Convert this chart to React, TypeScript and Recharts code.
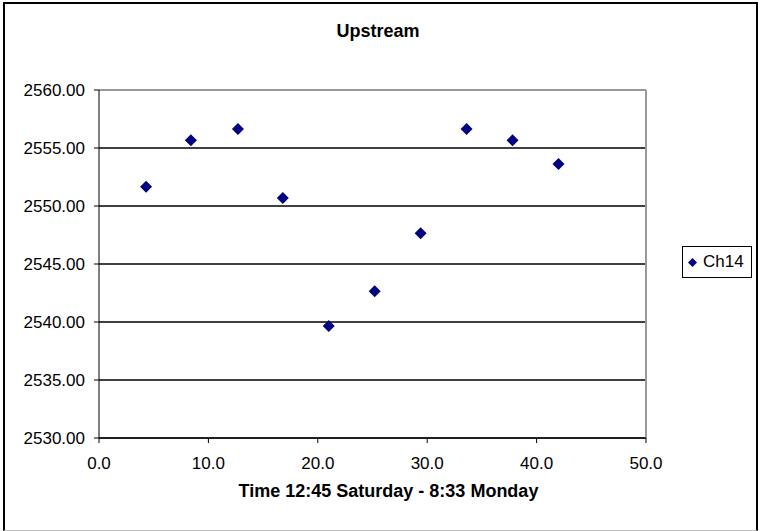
import {
  ScatterChart,
  Scatter,
  XAxis,
  YAxis,
  CartesianGrid,
  Legend,
  ReferenceLine,
} from "recharts";

const timeValues = [4.3, 8.4, 12.7, 16.8, 21.0, 25.2, 29.4, 33.6, 37.8, 42.0];
const ch14Values = [
  2551.66, 2555.66, 2556.64, 2550.69, 2539.66, 2542.65, 2547.65, 2556.64,
  2555.66, 2553.62,
];
const xTicks = [0, 10, 20, 30, 40, 50];
const yTicks = [2530, 2535, 2540, 2545, 2550, 2555, 2560];

const data = timeValues.map((t, i) => ({ t, v: ch14Values[i] }));

const FONT = "'Liberation Sans', Arial, sans-serif";
const NAVY = "#000080";

function Diamond(props: any) {
  const { cx, cy } = props;
  if (cx == null || cy == null) return null;
  const r = 6;
  return (
    <polygon
      points={`${cx},${cy - r} ${cx + r},${cy} ${cx},${cy + r} ${cx - r},${cy}`}
      fill={NAVY}
    />
  );
}

function LegendBox() {
  return (
    <div
      style={{
        width: 70,
        height: 32,
        boxSizing: "border-box",
        border: "1px solid #000",
        background: "#fff",
        display: "flex",
        alignItems: "center",
        paddingLeft: 5,
        fontFamily: FONT,
        fontSize: 17,
        color: "#000",
      }}
    >
      <svg width={9} height={9}>
        <polygon points="4.5,0 9,4.5 4.5,9 0,4.5" fill={NAVY} />
      </svg>
      <span style={{ marginLeft: 6 }}>Ch14</span>
    </div>
  );
}

export default function App() {
  return (
    <div
      style={{
        position: "absolute",
        left: 0,
        top: 0,
        width: 768,
        height: 531,
        background: "#fff",
      }}
    >
      {/* outer frame */}
      <div
        style={{
          position: "absolute",
          left: 3,
          top: 2,
          width: 755,
          height: 529,
          boxSizing: "border-box",
          borderTop: "2px solid #000",
          borderLeft: "2px solid #000",
          borderRight: "2px solid #000",
          borderBottom: "1px solid #c0c0c0",
        }}
      />
      <div
        style={{
          position: "absolute",
          left: 0,
          top: 21.5,
          width: 756,
          textAlign: "center",
          fontFamily: FONT,
          fontWeight: "bold",
          fontSize: 18,
          lineHeight: "18px",
        }}
      >
        Upstream
      </div>
      <ScatterChart
        width={768}
        height={531}
        // legend width (70) is added on the right by recharts
        margin={{ top: 90, right: 52, bottom: 0, left: 0 }}
        style={{ position: "absolute", left: 0, top: 0 }}
      >
        <CartesianGrid vertical={false} stroke="#000" strokeWidth={1.5} />
        <XAxis
          type="number"
          dataKey="t"
          domain={[0, 50]}
          ticks={xTicks}
          tickFormatter={(v: number) => v.toFixed(1)}
          height={93}
          tickSize={5}
          tickMargin={14}
          stroke="#000"
          tick={{ fill: "#000", fontSize: 17, fontFamily: FONT }}
          label={{
            value: "Time 12:45 Saturday - 8:33 Monday",
            position: "insideBottom",
            offset: 34,
            dx: 16,
            fill: "#000",
            fontSize: 18,
            fontWeight: "bold",
            fontFamily: FONT,
          }}
        />
        <YAxis
          type="number"
          dataKey="v"
          domain={[2530, 2560]}
          ticks={yTicks}
          tickFormatter={(v: number) => v.toFixed(2)}
          width={99}
          tickSize={5}
          tickMargin={9}
          stroke="#000"
          tick={{ fill: "#000", fontSize: 17, fontFamily: FONT }}
        />
        <ReferenceLine y={2560} stroke="#999" strokeWidth={2} />
        <ReferenceLine x={50} stroke="#999" strokeWidth={2} />
        <Legend
          layout="horizontal"
          align="right"
          verticalAlign="middle"
          content={() => <LegendBox />}
          wrapperStyle={{ left: 682, top: 246, width: 70 }}
        />
        <Scatter
          name="Ch14"
          data={data}
          fill={NAVY}
          shape={<Diamond />}
          isAnimationActive={false}
        />
      </ScatterChart>
    </div>
  );
}
